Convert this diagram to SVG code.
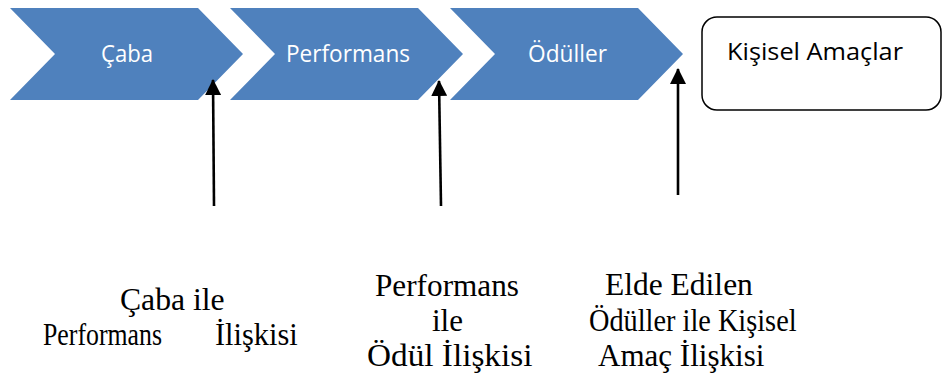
<svg xmlns="http://www.w3.org/2000/svg" width="942" height="377" viewBox="0 0 942 377">
<style>
.chev{fill:#4F81BD;stroke:none}
.clabel{font-family:"Open Sans","Noto Sans",sans-serif;font-size:23px;fill:#FFFFFF}
.blabel{font-family:"Open Sans","Noto Sans",sans-serif;font-size:24px;fill:#000000}
.box{fill:#FFFFFF;stroke:#000000;stroke-width:1.5}
.conn{stroke:#000000;stroke-width:2.6;fill:none}
.cap{font-family:"Liberation Serif","Times New Roman",serif;font-size:32px;fill:#000000}
</style>
<defs>
<marker id="ah" markerUnits="userSpaceOnUse" markerWidth="18" markerHeight="16" viewBox="0 0 18 16" refX="15" refY="8" orient="auto">
<path d="M0,0 L16,8 L0,16 Z" fill="#000000"/>
</marker>
</defs>
<g id="node-caba">
<polygon class="chev" points="10,8 198,8 243,54 198,100 10,100 55,54"/>
<text class="clabel" x="101" y="62" textLength="52" lengthAdjust="spacingAndGlyphs">Çaba</text>
</g>
<g id="node-performans">
<polygon class="chev" points="230,8 418,8 463,54 418,100 230,100 275,54"/>
<text class="clabel" x="286" y="62" textLength="124" lengthAdjust="spacingAndGlyphs">Performans</text>
</g>
<g id="node-oduller">
<polygon class="chev" points="450,8 638,8 683,54 638,100 450,100 495,54"/>
<text class="clabel" x="528" y="62" textLength="79" lengthAdjust="spacingAndGlyphs">Ödüller</text>
</g>
<g id="node-kisisel">
<rect class="box" x="702" y="17" width="239" height="93" rx="15" ry="15"/>
<text class="blabel" x="727" y="60" textLength="176" lengthAdjust="spacingAndGlyphs">Kişisel Amaçlar</text>
</g>
<g id="connectors">
<line class="conn" x1="214" y1="206" x2="213" y2="80" marker-end="url(#ah)"/>
<line class="conn" x1="441" y1="206" x2="439" y2="81" marker-end="url(#ah)"/>
<line class="conn" x1="678" y1="195" x2="678" y2="69" marker-end="url(#ah)"/>
</g>
<g id="label-caba-performans">
<text class="cap" transform="matrix(0.99 0 0 1 120 310)">Çaba ile</text>
<text class="cap" transform="matrix(0.807 0 0 1 43 345)">Performans</text>
<text class="cap" transform="matrix(0.95 0 0 1 215 345)">İlişkisi</text>
</g>
<g id="label-performans-odul">
<text class="cap" transform="matrix(0.976 0 0 1 375 296)">Performans</text>
<text class="cap" transform="matrix(0.97 0 0 1 432 331)">ile</text>
<text class="cap" transform="matrix(1.04 0 0 1 367 366)">Ödül İlişkisi</text>
</g>
<g id="label-oduller-amac">
<text class="cap" transform="matrix(0.985 0 0 1 605 295)">Elde Edilen</text>
<text class="cap" transform="matrix(0.885 0 0 1 589 331)">Ödüller ile Kişisel</text>
<text class="cap" transform="matrix(0.97 0 0 1 598 366)">Amaç İlişkisi</text>
</g>
</svg>
